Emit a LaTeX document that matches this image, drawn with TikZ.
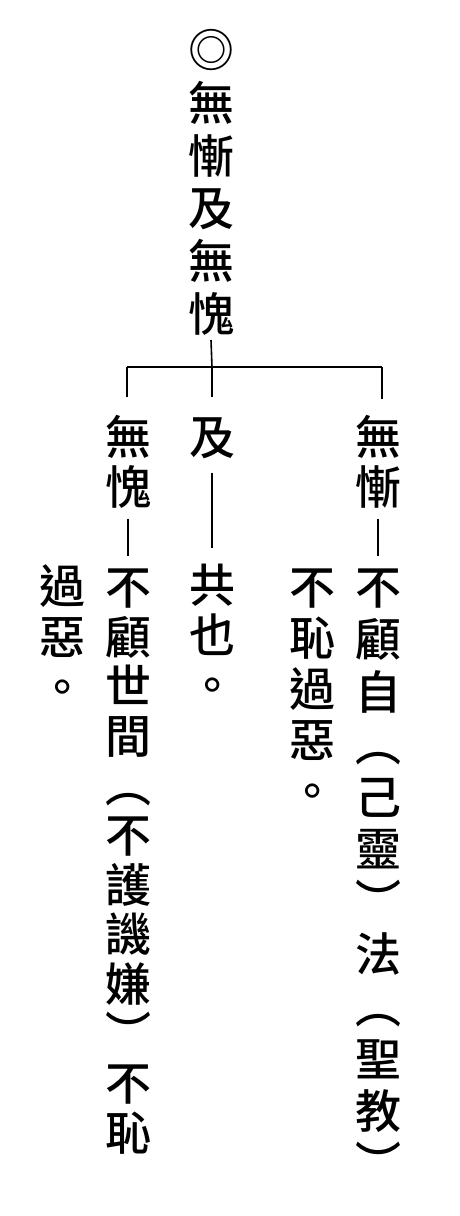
\documentclass[tikz,border=0pt]{standalone}
\usepackage{fontspec}
\IfFontExistsTF{Noto Sans CJK TC Medium}
  {\newfontfamily\cjk{Noto Sans CJK TC Medium}}
  {\newfontfamily\cjk[FakeBold=0.6]{Noto Sans CJK TC}}
\tikzset{
  ch/.style={font=\cjk\fontsize{46}{46}\selectfont, inner sep=0pt, text height=40.5pt, text depth=5.5pt, anchor=center},
  tree/.style={line width=1.6pt},
  dashline/.style={line width=1.1pt},
}
\newcommand\vcol[5]{%
  \foreach \c [count=\i] in {#5} {
    \node[ch] (#1-\i) at (#2, {#3+(\i-1)*#4}) {\c};
  }%
}
\begin{document}
\begin{tikzpicture}[x=1pt,y=-1pt]
\fill[white] (0,0) rectangle (459,1216);
\useasboundingbox (0,0) rectangle (459,1216);
% top title column
\vcol{T}{211}{50}{52.8}{◎,無,慚,及,無,愧}
% second row heads
\vcol{L}{128}{437}{50}{無,愧}
\vcol{M}{212}{437}{50}{及}
\vcol{R}{378}{437}{50}{無,慚}
% bodies
\vcol{LB}{128}{587}{49.6}{不,顧,世,間,︵,不,護,譏,嫌,︶,不,恥}
\vcol{LC}{62}{586}{50.5}{過,惡,。}
\vcol{MB}{212}{585}{50}{共,也,。}
\vcol{RC}{312}{587}{51}{不,恥,過,惡,。}
\vcol{RB}{378}{587}{52.4}{不,顧,自,︵,己,靈,︶,法,︵,聖,教,︶}
% tree
\coordinate (hub) at (212,367);
\coordinate (hl) at (127,367);
\coordinate (hr) at (382,367);
\coordinate (dl) at (127,397);
\coordinate (dm) at (212,397);
\coordinate (dr) at (382,399);
\draw[tree] (T-6.south |- 0,340) -- (hub);
\draw[tree] (hl) -- (hr);
\draw[tree] (hl) -- (dl);
\draw[tree] (hub) -- (dm);
\draw[tree] (hr) -- (dr);
% dashes in the columns
\draw[dashline, shorten <=8.5pt, shorten >=7.5pt] (L-2.south) -- (LB-1.north);
\draw[dashline, shorten <=12.5pt, shorten >=13.5pt] (M-1.south) -- (MB-1.north);
\draw[dashline, shorten <=8.5pt, shorten >=7.5pt] (R-2.south) -- (RB-1.north);
\end{tikzpicture}
\end{document}
